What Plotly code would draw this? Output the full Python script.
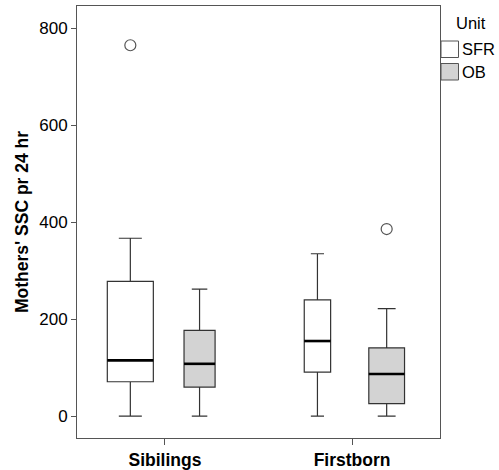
import plotly.graph_objects as go

# ---------------- data ----------------
categories = ["Sibilings", "Firstborn"]
units = ["SFR", "OB"]
box_group = ["Sibilings", "Sibilings", "Firstborn", "Firstborn"]
box_unit = ["SFR", "OB", "SFR", "OB"]
lower_fence = [0, 0, 0, 0]
q1 = [71, 60, 91, 26]
median = [115, 108, 155, 87]
q3 = [278, 177, 240, 141]
upper_fence = [367, 262, 335, 222]
outlier_group = ["Sibilings", "Firstborn"]
outlier_unit = ["SFR", "OB"]
outlier_value = [765, 386]
y_ticks = [0, 200, 400, 600, 800]
legend_title = "Unit"

# ---------------- styles ----------------
unit_offset = {"SFR": -0.185, "OB": 0.185}
box_widths = [0.246, 0.166, 0.141, 0.191]
fill = {"SFR": "#ffffff", "OB": "#d3d3d3"}
FONT = "Liberation Sans, Arial, sans-serif"
W, H = 499, 470
ML, MR, MT, MB = 77, 59, 6, 32
PW, PH = W - ML - MR, H - MT - MB


def px_x(p):
    return (p - ML) / PW


def px_y(p):
    return (H - MB - p) / PH


fig = go.Figure()
for i in range(len(box_group)):
    u = box_unit[i]
    pos = categories.index(box_group[i]) + unit_offset[u]
    fig.add_trace(go.Box(
        x=[pos], q1=[q1[i]], median=[median[i]], q3=[q3[i]],
        lowerfence=[lower_fence[i]], upperfence=[upper_fence[i]],
        width=box_widths[i], whiskerwidth=0.5,
        fillcolor=fill[u], line=dict(color="#333333", width=1.2),
        name=u, showlegend=False, hoverinfo="skip",
    ))
    # thick median line
    fig.add_trace(go.Scatter(
        x=[pos - box_widths[i] / 2, pos + box_widths[i] / 2],
        y=[median[i], median[i]], mode="lines",
        line=dict(color="black", width=2.6),
        showlegend=False, hoverinfo="skip",
    ))

for g, u, v in zip(outlier_group, outlier_unit, outlier_value):
    pos = categories.index(g) + unit_offset[u]
    fig.add_trace(go.Scatter(
        x=[pos], y=[v], mode="markers",
        marker=dict(symbol="circle-open", size=11, color="#555555", line=dict(width=1.2)),
        showlegend=False, hoverinfo="skip",
    ))

# legend (drawn as layout items, right of the frame)
fig.add_annotation(
    x=px_x(454), y=px_y(23), xref="paper", yref="paper", text=legend_title,
    showarrow=False, xanchor="left", yanchor="middle", font=dict(size=16.5),
)
for k, u in enumerate(units):
    top = 41 + k * 22.5
    fig.add_shape(
        type="rect", xref="paper", yref="paper",
        x0=px_x(441), x1=px_x(458.5), y0=px_y(top), y1=px_y(top + 16.5),
        fillcolor=fill[u], line=dict(color="#555555", width=1),
    )
    fig.add_annotation(
        x=px_x(460), y=px_y(top + 8.5), xref="paper", yref="paper", text=u,
        showarrow=False, xanchor="left", yanchor="middle", font=dict(size=16.5),
    )

fig.update_layout(
    width=W, height=H,
    margin=dict(l=ML, r=MR, t=MT, b=MB),
    paper_bgcolor="white", plot_bgcolor="white",
    font=dict(family=FONT, size=17, color="black"),
    showlegend=False,
)
fig.update_xaxes(
    range=[-0.47, 1.47], tickvals=[0, 1],
    ticktext=["<b>%s</b>" % c for c in categories],
    showgrid=False, zeroline=False, showline=True, mirror=True,
    linecolor="#555555", linewidth=1, ticks="outside", ticklen=6,
    tickcolor="#555555", tickfont=dict(size=17.5, color="black"),
    automargin=False,
)
fig.update_yaxes(
    range=[-45, 846], tickvals=y_ticks,
    showgrid=False, zeroline=False, showline=True, mirror=True,
    linecolor="#555555", linewidth=1, ticks="outside", ticklen=5,
    tickcolor="#555555", tickfont=dict(size=17, color="black"),
    title=dict(text="<b>Mothers' SSC pr 24 hr</b>", font=dict(size=17.5), standoff=6),
    automargin=False,
)

fig.write_html("out.html")
